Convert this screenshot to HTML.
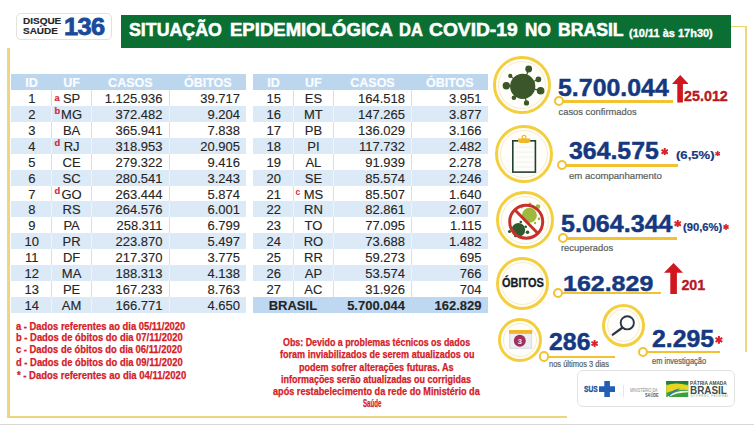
<!DOCTYPE html>
<html><head><meta charset="utf-8">
<style>
html,body{margin:0;padding:0}
body{width:754px;height:425px;position:relative;overflow:hidden;background:#fff;font-family:"Liberation Sans",sans-serif}
div,svg{position:absolute}
.hd{background:#bcd6ee}
.rb{background:#dce9f6}
.ht{color:#fafcff;-webkit-text-stroke:0.2px #fafcff;font-weight:bold;font-size:12.5px;line-height:16px;text-align:center;height:16px}
.tc{color:#252525;-webkit-text-stroke:0.12px #252525;font-size:13px;line-height:16px;text-align:center;height:16px}
.tr{color:#252525;-webkit-text-stroke:0.12px #252525;font-size:13px;line-height:16px;text-align:right;height:16px}
.b{font-weight:bold}
.dv{width:1px}
.sp{color:#d42a34;font-weight:bold;font-size:9.3px;line-height:10px;-webkit-text-stroke:0.2px #d42a34}
.ring{border:4px solid #f3cf3f;border-radius:50%;background:#fffefa}
.ring::after{content:"";position:absolute;left:2px;top:2px;right:2px;bottom:2px;border:1px solid #f6eccc;border-radius:50%}
.cl{height:2.5px;background:#f1c232}
.cc{width:6.4px;height:6.4px;border:2.3px solid #f1c232;border-radius:50%;background:#fff}
.num{color:#15387f;font-weight:bold;white-space:nowrap;transform-origin:0 0;-webkit-text-stroke:0.45px #15387f}
.lab{color:#5a5f5d;white-space:nowrap;-webkit-text-stroke:0.2px #5a5f5d;transform-origin:0 0}
.tw{top:19.3px;font-size:17.5px;line-height:22px;font-weight:bold;color:#fff;white-space:nowrap;transform-origin:0 0;-webkit-text-stroke:0.55px #fff}
.note{color:#d42028;font-weight:bold;font-size:10px;line-height:12px;white-space:nowrap;transform-origin:0 0;-webkit-text-stroke:0.25px #d42028}
</style></head><body>
<!-- logo box -->
<div style="left:16px;top:13px;width:94px;height:25px;border:1px solid #e2e2e2;border-radius:5px"></div>
<div style="left:23px;top:16px;font-size:9.6px;line-height:9.6px;font-weight:bold;color:#262626;transform-origin:0 0;transform:scaleX(1.04);-webkit-text-stroke:0.15px #262626">DISQUE<br>SAÚDE</div>
<div style="left:63.8px;top:13.6px;font-size:23.5px;line-height:26px;font-weight:bold;color:#1a4b9a;letter-spacing:-0.6px;transform-origin:0 0;transform:scaleX(1.08);-webkit-text-stroke:0.8px #1a4b9a">136</div>
<!-- title -->
<div style="left:121px;top:15px;width:610px;height:33px;background:#0b6e33"></div>
<div class="tw" style="left:128.95px;transform:scaleX(1.0159)">SITUAÇÃO</div>
<div class="tw" style="left:229.50px;transform:scaleX(1.0599)">EPIDEMIOLÓGICA</div>
<div class="tw" style="left:399.20px;transform:scaleX(0.9407)">DA</div>
<div class="tw" style="left:429.20px;transform:scaleX(1.0979)">COVID-19</div>
<div class="tw" style="left:525.10px;transform:scaleX(0.9810)">NO</div>
<div class="tw" style="left:558.20px;transform:scaleX(1.0077)">BRASIL</div>
<div style="left:629px;top:26.6px;font-size:11px;line-height:13px;font-weight:bold;color:#fff;white-space:nowrap;-webkit-text-stroke:0.35px #fff">(10/11 às 17h30)</div>
<!-- frame -->
<div style="left:7px;top:47.5px;width:2.6px;height:370px;background:#efd67e"></div>
<div style="left:7px;top:416px;width:560px;height:1.6px;background:#efd67e"></div>
<div style="left:731px;top:25.6px;width:15.5px;height:1.4px;background:#ead86a"></div>
<div style="left:745px;top:25.6px;width:1.7px;height:326px;background:#efd67e"></div>
<div style="left:0;top:423.6px;width:754px;height:1.4px;background:#d8d8d8"></div>
<div class="hd" style="left:11px;top:74px;width:235px;height:15.93px"></div>
<div class="ht" style="left:11.6px;top:74.6px;width:40px">ID</div>
<div class="ht" style="left:51.6px;top:74.6px;width:40px">UF</div>
<div class="ht" style="left:91.6px;top:74.6px;width:77.5px">CASOS</div>
<div class="ht" style="left:169.1px;top:74.6px;width:77.5px">ÓBITOS</div>
<div class="dv" style="left:51px;top:89.93px;height:15.93px;background:#dedede"></div>
<div class="dv" style="left:91px;top:89.93px;height:15.93px;background:#dedede"></div>
<div class="dv" style="left:168.5px;top:89.93px;height:15.93px;background:#dedede"></div>
<div class="tc" style="left:11.8px;top:90.93px;width:40px">1</div>
<div class="tc" style="left:51.6px;top:90.93px;width:40px">SP</div>
<div class="sp" style="left:54.6px;top:93.43px;">a</div>
<div class="tr" style="left:91px;top:90.93px;width:71.5px">1.125.936</div>
<div class="tr" style="left:168.5px;top:90.93px;width:71.5px">39.717</div>
<div class="rb" style="left:11px;top:105.86px;width:235px;height:15.93px"></div>
<div class="dv" style="left:51px;top:105.86px;height:15.93px;background:#eef4fb"></div>
<div class="dv" style="left:91px;top:105.86px;height:15.93px;background:#eef4fb"></div>
<div class="dv" style="left:168.5px;top:105.86px;height:15.93px;background:#eef4fb"></div>
<div class="tc" style="left:11.8px;top:106.86px;width:40px">2</div>
<div class="tc" style="left:51.6px;top:106.86px;width:40px">MG</div>
<div class="sp" style="left:54.6px;top:106.06px;">b</div>
<div class="tr" style="left:91px;top:106.86px;width:71.5px">372.482</div>
<div class="tr" style="left:168.5px;top:106.86px;width:71.5px">9.204</div>
<div class="dv" style="left:51px;top:121.78999999999999px;height:15.93px;background:#dedede"></div>
<div class="dv" style="left:91px;top:121.78999999999999px;height:15.93px;background:#dedede"></div>
<div class="dv" style="left:168.5px;top:121.78999999999999px;height:15.93px;background:#dedede"></div>
<div class="tc" style="left:11.8px;top:122.78999999999999px;width:40px">3</div>
<div class="tc" style="left:51.6px;top:122.78999999999999px;width:40px">BA</div>
<div class="tr" style="left:91px;top:122.78999999999999px;width:71.5px">365.941</div>
<div class="tr" style="left:168.5px;top:122.78999999999999px;width:71.5px">7.838</div>
<div class="rb" style="left:11px;top:137.72px;width:235px;height:15.93px"></div>
<div class="dv" style="left:51px;top:137.72px;height:15.93px;background:#eef4fb"></div>
<div class="dv" style="left:91px;top:137.72px;height:15.93px;background:#eef4fb"></div>
<div class="dv" style="left:168.5px;top:137.72px;height:15.93px;background:#eef4fb"></div>
<div class="tc" style="left:11.8px;top:138.72px;width:40px">4</div>
<div class="tc" style="left:51.6px;top:138.72px;width:40px">RJ</div>
<div class="sp" style="left:54.6px;top:137.92px;">d</div>
<div class="tr" style="left:91px;top:138.72px;width:71.5px">318.953</div>
<div class="tr" style="left:168.5px;top:138.72px;width:71.5px">20.905</div>
<div class="dv" style="left:51px;top:153.65px;height:15.93px;background:#dedede"></div>
<div class="dv" style="left:91px;top:153.65px;height:15.93px;background:#dedede"></div>
<div class="dv" style="left:168.5px;top:153.65px;height:15.93px;background:#dedede"></div>
<div class="tc" style="left:11.8px;top:154.65px;width:40px">5</div>
<div class="tc" style="left:51.6px;top:154.65px;width:40px">CE</div>
<div class="tr" style="left:91px;top:154.65px;width:71.5px">279.322</div>
<div class="tr" style="left:168.5px;top:154.65px;width:71.5px">9.416</div>
<div class="rb" style="left:11px;top:169.57999999999998px;width:235px;height:15.93px"></div>
<div class="dv" style="left:51px;top:169.57999999999998px;height:15.93px;background:#eef4fb"></div>
<div class="dv" style="left:91px;top:169.57999999999998px;height:15.93px;background:#eef4fb"></div>
<div class="dv" style="left:168.5px;top:169.57999999999998px;height:15.93px;background:#eef4fb"></div>
<div class="tc" style="left:11.8px;top:170.57999999999998px;width:40px">6</div>
<div class="tc" style="left:51.6px;top:170.57999999999998px;width:40px">SC</div>
<div class="tr" style="left:91px;top:170.57999999999998px;width:71.5px">280.541</div>
<div class="tr" style="left:168.5px;top:170.57999999999998px;width:71.5px">3.243</div>
<div class="dv" style="left:51px;top:185.51px;height:15.93px;background:#dedede"></div>
<div class="dv" style="left:91px;top:185.51px;height:15.93px;background:#dedede"></div>
<div class="dv" style="left:168.5px;top:185.51px;height:15.93px;background:#dedede"></div>
<div class="tc" style="left:11.8px;top:186.51px;width:40px">7</div>
<div class="tc" style="left:51.6px;top:186.51px;width:40px">GO</div>
<div class="sp" style="left:54.6px;top:185.70999999999998px;">d</div>
<div class="tr" style="left:91px;top:186.51px;width:71.5px">263.444</div>
<div class="tr" style="left:168.5px;top:186.51px;width:71.5px">5.874</div>
<div class="rb" style="left:11px;top:201.44px;width:235px;height:15.93px"></div>
<div class="dv" style="left:51px;top:201.44px;height:15.93px;background:#eef4fb"></div>
<div class="dv" style="left:91px;top:201.44px;height:15.93px;background:#eef4fb"></div>
<div class="dv" style="left:168.5px;top:201.44px;height:15.93px;background:#eef4fb"></div>
<div class="tc" style="left:11.8px;top:202.44px;width:40px">8</div>
<div class="tc" style="left:51.6px;top:202.44px;width:40px">RS</div>
<div class="tr" style="left:91px;top:202.44px;width:71.5px">264.576</div>
<div class="tr" style="left:168.5px;top:202.44px;width:71.5px">6.001</div>
<div class="dv" style="left:51px;top:217.37px;height:15.93px;background:#dedede"></div>
<div class="dv" style="left:91px;top:217.37px;height:15.93px;background:#dedede"></div>
<div class="dv" style="left:168.5px;top:217.37px;height:15.93px;background:#dedede"></div>
<div class="tc" style="left:11.8px;top:218.37px;width:40px">9</div>
<div class="tc" style="left:51.6px;top:218.37px;width:40px">PA</div>
<div class="tr" style="left:91px;top:218.37px;width:71.5px">258.311</div>
<div class="tr" style="left:168.5px;top:218.37px;width:71.5px">6.799</div>
<div class="rb" style="left:11px;top:233.3px;width:235px;height:15.93px"></div>
<div class="dv" style="left:51px;top:233.3px;height:15.93px;background:#eef4fb"></div>
<div class="dv" style="left:91px;top:233.3px;height:15.93px;background:#eef4fb"></div>
<div class="dv" style="left:168.5px;top:233.3px;height:15.93px;background:#eef4fb"></div>
<div class="tc" style="left:11.8px;top:234.3px;width:40px">10</div>
<div class="tc" style="left:51.6px;top:234.3px;width:40px">PR</div>
<div class="tr" style="left:91px;top:234.3px;width:71.5px">223.870</div>
<div class="tr" style="left:168.5px;top:234.3px;width:71.5px">5.497</div>
<div class="dv" style="left:51px;top:249.23px;height:15.93px;background:#dedede"></div>
<div class="dv" style="left:91px;top:249.23px;height:15.93px;background:#dedede"></div>
<div class="dv" style="left:168.5px;top:249.23px;height:15.93px;background:#dedede"></div>
<div class="tc" style="left:11.8px;top:250.23px;width:40px">11</div>
<div class="tc" style="left:51.6px;top:250.23px;width:40px">DF</div>
<div class="tr" style="left:91px;top:250.23px;width:71.5px">217.370</div>
<div class="tr" style="left:168.5px;top:250.23px;width:71.5px">3.775</div>
<div class="rb" style="left:11px;top:265.15999999999997px;width:235px;height:15.93px"></div>
<div class="dv" style="left:51px;top:265.15999999999997px;height:15.93px;background:#eef4fb"></div>
<div class="dv" style="left:91px;top:265.15999999999997px;height:15.93px;background:#eef4fb"></div>
<div class="dv" style="left:168.5px;top:265.15999999999997px;height:15.93px;background:#eef4fb"></div>
<div class="tc" style="left:11.8px;top:266.15999999999997px;width:40px">12</div>
<div class="tc" style="left:51.6px;top:266.15999999999997px;width:40px">MA</div>
<div class="tr" style="left:91px;top:266.15999999999997px;width:71.5px">188.313</div>
<div class="tr" style="left:168.5px;top:266.15999999999997px;width:71.5px">4.138</div>
<div class="dv" style="left:51px;top:281.09000000000003px;height:15.93px;background:#dedede"></div>
<div class="dv" style="left:91px;top:281.09000000000003px;height:15.93px;background:#dedede"></div>
<div class="dv" style="left:168.5px;top:281.09000000000003px;height:15.93px;background:#dedede"></div>
<div class="tc" style="left:11.8px;top:282.09000000000003px;width:40px">13</div>
<div class="tc" style="left:51.6px;top:282.09000000000003px;width:40px">PE</div>
<div class="tr" style="left:91px;top:282.09000000000003px;width:71.5px">167.233</div>
<div class="tr" style="left:168.5px;top:282.09000000000003px;width:71.5px">8.763</div>
<div class="rb" style="left:11px;top:297.02px;width:235px;height:15.93px"></div>
<div class="dv" style="left:51px;top:297.02px;height:15.93px;background:#eef4fb"></div>
<div class="dv" style="left:91px;top:297.02px;height:15.93px;background:#eef4fb"></div>
<div class="dv" style="left:168.5px;top:297.02px;height:15.93px;background:#eef4fb"></div>
<div class="tc" style="left:11.8px;top:298.02px;width:40px">14</div>
<div class="tc" style="left:51.6px;top:298.02px;width:40px">AM</div>
<div class="tr" style="left:91px;top:298.02px;width:71.5px">166.771</div>
<div class="tr" style="left:168.5px;top:298.02px;width:71.5px">4.650</div>
<div class="hd" style="left:253px;top:74px;width:234.5px;height:15.93px"></div>
<div class="ht" style="left:253.6px;top:74.6px;width:39.80000000000001px">ID</div>
<div class="ht" style="left:293.40000000000003px;top:74.6px;width:40.0px">UF</div>
<div class="ht" style="left:333.40000000000003px;top:74.6px;width:78.19999999999999px">CASOS</div>
<div class="ht" style="left:411.6px;top:74.6px;width:76.5px">ÓBITOS</div>
<div class="dv" style="left:292.8px;top:89.93px;height:15.93px;background:#dedede"></div>
<div class="dv" style="left:332.8px;top:89.93px;height:15.93px;background:#dedede"></div>
<div class="dv" style="left:411px;top:89.93px;height:15.93px;background:#dedede"></div>
<div class="tc" style="left:253.8px;top:90.93px;width:39.80000000000001px">15</div>
<div class="tc" style="left:293.40000000000003px;top:90.93px;width:40.0px">ES</div>
<div class="tr" style="left:332.8px;top:90.93px;width:72.19999999999999px">164.518</div>
<div class="tr" style="left:411px;top:90.93px;width:70.5px">3.951</div>
<div class="rb" style="left:253px;top:105.86px;width:234.5px;height:15.93px"></div>
<div class="dv" style="left:292.8px;top:105.86px;height:15.93px;background:#eef4fb"></div>
<div class="dv" style="left:332.8px;top:105.86px;height:15.93px;background:#eef4fb"></div>
<div class="dv" style="left:411px;top:105.86px;height:15.93px;background:#eef4fb"></div>
<div class="tc" style="left:253.8px;top:106.86px;width:39.80000000000001px">16</div>
<div class="tc" style="left:293.40000000000003px;top:106.86px;width:40.0px">MT</div>
<div class="tr" style="left:332.8px;top:106.86px;width:72.19999999999999px">147.265</div>
<div class="tr" style="left:411px;top:106.86px;width:70.5px">3.877</div>
<div class="dv" style="left:292.8px;top:121.78999999999999px;height:15.93px;background:#dedede"></div>
<div class="dv" style="left:332.8px;top:121.78999999999999px;height:15.93px;background:#dedede"></div>
<div class="dv" style="left:411px;top:121.78999999999999px;height:15.93px;background:#dedede"></div>
<div class="tc" style="left:253.8px;top:122.78999999999999px;width:39.80000000000001px">17</div>
<div class="tc" style="left:293.40000000000003px;top:122.78999999999999px;width:40.0px">PB</div>
<div class="tr" style="left:332.8px;top:122.78999999999999px;width:72.19999999999999px">136.029</div>
<div class="tr" style="left:411px;top:122.78999999999999px;width:70.5px">3.166</div>
<div class="rb" style="left:253px;top:137.72px;width:234.5px;height:15.93px"></div>
<div class="dv" style="left:292.8px;top:137.72px;height:15.93px;background:#eef4fb"></div>
<div class="dv" style="left:332.8px;top:137.72px;height:15.93px;background:#eef4fb"></div>
<div class="dv" style="left:411px;top:137.72px;height:15.93px;background:#eef4fb"></div>
<div class="tc" style="left:253.8px;top:138.72px;width:39.80000000000001px">18</div>
<div class="tc" style="left:293.40000000000003px;top:138.72px;width:40.0px">PI</div>
<div class="tr" style="left:332.8px;top:138.72px;width:72.19999999999999px">117.732</div>
<div class="tr" style="left:411px;top:138.72px;width:70.5px">2.482</div>
<div class="dv" style="left:292.8px;top:153.65px;height:15.93px;background:#dedede"></div>
<div class="dv" style="left:332.8px;top:153.65px;height:15.93px;background:#dedede"></div>
<div class="dv" style="left:411px;top:153.65px;height:15.93px;background:#dedede"></div>
<div class="tc" style="left:253.8px;top:154.65px;width:39.80000000000001px">19</div>
<div class="tc" style="left:293.40000000000003px;top:154.65px;width:40.0px">AL</div>
<div class="tr" style="left:332.8px;top:154.65px;width:72.19999999999999px">91.939</div>
<div class="tr" style="left:411px;top:154.65px;width:70.5px">2.278</div>
<div class="rb" style="left:253px;top:169.57999999999998px;width:234.5px;height:15.93px"></div>
<div class="dv" style="left:292.8px;top:169.57999999999998px;height:15.93px;background:#eef4fb"></div>
<div class="dv" style="left:332.8px;top:169.57999999999998px;height:15.93px;background:#eef4fb"></div>
<div class="dv" style="left:411px;top:169.57999999999998px;height:15.93px;background:#eef4fb"></div>
<div class="tc" style="left:253.8px;top:170.57999999999998px;width:39.80000000000001px">20</div>
<div class="tc" style="left:293.40000000000003px;top:170.57999999999998px;width:40.0px">SE</div>
<div class="tr" style="left:332.8px;top:170.57999999999998px;width:72.19999999999999px">85.574</div>
<div class="tr" style="left:411px;top:170.57999999999998px;width:70.5px">2.246</div>
<div class="dv" style="left:292.8px;top:185.51px;height:15.93px;background:#dedede"></div>
<div class="dv" style="left:332.8px;top:185.51px;height:15.93px;background:#dedede"></div>
<div class="dv" style="left:411px;top:185.51px;height:15.93px;background:#dedede"></div>
<div class="tc" style="left:253.8px;top:186.51px;width:39.80000000000001px">21</div>
<div class="tc" style="left:293.40000000000003px;top:186.51px;width:40.0px">MS</div>
<div class="sp" style="left:295.40000000000003px;top:186.70999999999998px;font-size:8.5px;-webkit-text-stroke:0">c</div>
<div class="tr" style="left:332.8px;top:186.51px;width:72.19999999999999px">85.507</div>
<div class="tr" style="left:411px;top:186.51px;width:70.5px">1.640</div>
<div class="rb" style="left:253px;top:201.44px;width:234.5px;height:15.93px"></div>
<div class="dv" style="left:292.8px;top:201.44px;height:15.93px;background:#eef4fb"></div>
<div class="dv" style="left:332.8px;top:201.44px;height:15.93px;background:#eef4fb"></div>
<div class="dv" style="left:411px;top:201.44px;height:15.93px;background:#eef4fb"></div>
<div class="tc" style="left:253.8px;top:202.44px;width:39.80000000000001px">22</div>
<div class="tc" style="left:293.40000000000003px;top:202.44px;width:40.0px">RN</div>
<div class="tr" style="left:332.8px;top:202.44px;width:72.19999999999999px">82.861</div>
<div class="tr" style="left:411px;top:202.44px;width:70.5px">2.607</div>
<div class="dv" style="left:292.8px;top:217.37px;height:15.93px;background:#dedede"></div>
<div class="dv" style="left:332.8px;top:217.37px;height:15.93px;background:#dedede"></div>
<div class="dv" style="left:411px;top:217.37px;height:15.93px;background:#dedede"></div>
<div class="tc" style="left:253.8px;top:218.37px;width:39.80000000000001px">23</div>
<div class="tc" style="left:293.40000000000003px;top:218.37px;width:40.0px">TO</div>
<div class="tr" style="left:332.8px;top:218.37px;width:72.19999999999999px">77.095</div>
<div class="tr" style="left:411px;top:218.37px;width:70.5px">1.115</div>
<div class="rb" style="left:253px;top:233.3px;width:234.5px;height:15.93px"></div>
<div class="dv" style="left:292.8px;top:233.3px;height:15.93px;background:#eef4fb"></div>
<div class="dv" style="left:332.8px;top:233.3px;height:15.93px;background:#eef4fb"></div>
<div class="dv" style="left:411px;top:233.3px;height:15.93px;background:#eef4fb"></div>
<div class="tc" style="left:253.8px;top:234.3px;width:39.80000000000001px">24</div>
<div class="tc" style="left:293.40000000000003px;top:234.3px;width:40.0px">RO</div>
<div class="tr" style="left:332.8px;top:234.3px;width:72.19999999999999px">73.688</div>
<div class="tr" style="left:411px;top:234.3px;width:70.5px">1.482</div>
<div class="dv" style="left:292.8px;top:249.23px;height:15.93px;background:#dedede"></div>
<div class="dv" style="left:332.8px;top:249.23px;height:15.93px;background:#dedede"></div>
<div class="dv" style="left:411px;top:249.23px;height:15.93px;background:#dedede"></div>
<div class="tc" style="left:253.8px;top:250.23px;width:39.80000000000001px">25</div>
<div class="tc" style="left:293.40000000000003px;top:250.23px;width:40.0px">RR</div>
<div class="tr" style="left:332.8px;top:250.23px;width:72.19999999999999px">59.273</div>
<div class="tr" style="left:411px;top:250.23px;width:70.5px">695</div>
<div class="rb" style="left:253px;top:265.15999999999997px;width:234.5px;height:15.93px"></div>
<div class="dv" style="left:292.8px;top:265.15999999999997px;height:15.93px;background:#eef4fb"></div>
<div class="dv" style="left:332.8px;top:265.15999999999997px;height:15.93px;background:#eef4fb"></div>
<div class="dv" style="left:411px;top:265.15999999999997px;height:15.93px;background:#eef4fb"></div>
<div class="tc" style="left:253.8px;top:266.15999999999997px;width:39.80000000000001px">26</div>
<div class="tc" style="left:293.40000000000003px;top:266.15999999999997px;width:40.0px">AP</div>
<div class="tr" style="left:332.8px;top:266.15999999999997px;width:72.19999999999999px">53.574</div>
<div class="tr" style="left:411px;top:266.15999999999997px;width:70.5px">766</div>
<div class="dv" style="left:292.8px;top:281.09000000000003px;height:15.93px;background:#dedede"></div>
<div class="dv" style="left:332.8px;top:281.09000000000003px;height:15.93px;background:#dedede"></div>
<div class="dv" style="left:411px;top:281.09000000000003px;height:15.93px;background:#dedede"></div>
<div class="tc" style="left:253.8px;top:282.09000000000003px;width:39.80000000000001px">27</div>
<div class="tc" style="left:293.40000000000003px;top:282.09000000000003px;width:40.0px">AC</div>
<div class="tr" style="left:332.8px;top:282.09000000000003px;width:72.19999999999999px">31.926</div>
<div class="tr" style="left:411px;top:282.09000000000003px;width:70.5px">704</div>
<div class="rb" style="left:253px;top:297.02px;width:234.5px;height:15.93px;background:#bed8f1"></div>
<div class="tc b" style="left:253px;top:298.02px;width:79.80000000000001px">BRASIL</div>
<div class="tr b" style="left:332.8px;top:298.02px;width:72.19999999999999px">5.700.044</div>
<div class="tr b" style="left:411px;top:298.02px;width:70.5px">162.829</div>
<!-- notes -->
<div class="note" style="left:16px;top:320.9px;transform:scaleX(0.94)">a - Dados referentes ao dia 05/11/2020</div>
<div class="note" style="left:16px;top:331.7px;transform:scaleX(0.94)">b - Dados de óbitos do dia 07/11/2020</div>
<div class="note" style="left:16px;top:343.9px;transform:scaleX(0.94)">c - Dados de óbitos do dia 06/11/2020</div>
<div class="note" style="left:16px;top:357.0px;transform:scaleX(0.94)">d - Dados de óbitos do dia 09/11/2020</div>
<div class="note" style="left:16.8px;top:369.8px;transform:scaleX(0.948)">* - Dados referentes ao dia 04/11/2020</div>
<div class="note" style="left:283.30px;top:337.0px;transform:scaleX(0.8883)">Obs: Devido a problemas técnicos os dados</div>
<div class="note" style="left:279.60px;top:349.3px;transform:scaleX(0.9041)">foram inviabilizados de serem atualizados ou</div>
<div class="note" style="left:299.20px;top:361.7px;transform:scaleX(0.9050)">podem sofrer alterações futuras. As</div>
<div class="note" style="left:281.40px;top:374.4px;transform:scaleX(0.8969)">informações serão atualizadas ou corrigidas</div>
<div class="note" style="left:273.40px;top:386.4px;transform:scaleX(0.9141)">após restabelecimento da rede do Ministério da</div>
<div class="note" style="left:362.90px;top:398.3px;transform:scaleX(0.6116)">Saúde</div>
<!-- right panel -->
<div class="ring" style="left:493.0px;top:55.5px;width:52.4px;height:52.4px;border-width:3.8px"></div>
<svg style="left:493px;top:55px" width="60" height="61" viewBox="0 0 60 61">
<g fill="#3b5628" stroke="#3b5628" stroke-width="1.2">
<line x1="29.7" y1="31.4" x2="35.7" y2="14"/><circle cx="35.7" cy="14" r="2.8"/>
<line x1="29.7" y1="31.4" x2="45.4" y2="24.3"/><circle cx="45.4" cy="24.3" r="2.3"/>
<line x1="29.7" y1="31.4" x2="47.6" y2="35.7"/><circle cx="47.6" cy="35.7" r="3.2"/>
<line x1="29.7" y1="31.4" x2="33.5" y2="47.9"/><circle cx="33.5" cy="47.9" r="2"/>
<line x1="29.7" y1="31.4" x2="20.9" y2="42.7"/><circle cx="20.9" cy="42.7" r="1.7"/>
<line x1="29.7" y1="31.4" x2="13.3" y2="30.8"/><circle cx="13.3" cy="30.8" r="3.1"/>
<line x1="29.7" y1="31.4" x2="17.3" y2="20.9"/><circle cx="17.3" cy="20.9" r="1.5"/>
</g>
<circle cx="29.7" cy="31.4" r="12.6" fill="#3b5628"/>
</svg>
<div class="cl" style="left:559.1px;top:100.15px;width:114.39999999999998px"></div><div class="cc" style="left:553.6px;top:95.9px"></div>
<div class="num" style="left:557.80px;top:76.84px;font-size:23.5px;line-height:23.5px;transform:scaleX(1.06)">5.700.044</div>
<svg style="left:671.8px;top:75px" width="16.6" height="27.5" viewBox="0 0 16.6 27.5"><polygon points="8.2,0 16.6,9 10.9,9 10.9,27.5 5.3,27.5 5.3,9 0,9" fill="#d0161e"/></svg>
<div style="left:684.3px;top:88.8px;font-size:14.2px;line-height:14px;font-weight:bold;color:#b8181f;transform-origin:0 0;transform:scaleX(1.01);-webkit-text-stroke:0.35px #b8181f">25.012</div>
<div class="lab" style="left:558.5px;top:106px;font-size:9.4px;line-height:11px">casos confirmados</div>

<div class="ring" style="left:495.0px;top:124.5px;width:52.4px;height:52.4px;border-width:3.8px"></div>
<svg style="left:505px;top:130px" width="40" height="46" viewBox="0 0 40 46">
<rect x="7.8" y="10.8" width="22.6" height="31.3" fill="#fdfdfb" stroke="#22402f" stroke-width="1.6"/>
<g stroke="#efefe8" stroke-width="0.9"><line x1="10" y1="17" x2="28.5" y2="17"/><line x1="10" y1="22" x2="28.5" y2="22"/><line x1="10" y1="27" x2="28.5" y2="27"/><line x1="10" y1="32" x2="28.5" y2="32"/><line x1="10" y1="37" x2="28.5" y2="37"/></g>
<path d="M13 8.4 h12.3 v2.2 q0 2.4 -2.4 2.4 h-7.5 q-2.4 0 -2.4 -2.4z" fill="#f0b828"/>
<circle cx="19.1" cy="7.3" r="1.9" fill="none" stroke="#f0b828" stroke-width="1.2"/>
</svg>
<div class="cl" style="left:562px;top:164.25px;width:115.5px"></div><div class="cc" style="left:556.5px;top:160.0px"></div>
<div class="num" style="left:568.91px;top:140.22px;font-size:23px;line-height:23px;transform:scaleX(1.08)">364.575</div>
<svg style="left:660.75px;top:147.95px" width="7.5" height="7.5" viewBox="0 0 7.5 7.5"><g stroke="#d8232a" stroke-width="1.95"><line x1="3.75" y1="0.00" x2="3.75" y2="7.50"/><line x1="0.50" y1="1.88" x2="7.00" y2="5.62"/><line x1="7.00" y1="1.88" x2="0.50" y2="5.62"/></g></svg>
<div class="num" style="left:675.5px;top:149px;font-size:11.2px;line-height:13px;transform:scaleX(1.17);-webkit-text-stroke:0.2px #15387f">(6,5%)</div>
<svg style="left:714.95px;top:150.75px" width="5.5" height="5.5" viewBox="0 0 5.5 5.5"><g stroke="#d8232a" stroke-width="1.43"><line x1="2.75" y1="0.00" x2="2.75" y2="5.50"/><line x1="0.37" y1="1.38" x2="5.13" y2="4.12"/><line x1="5.13" y1="1.38" x2="0.37" y2="4.12"/></g></svg>
<div class="lab" style="left:569px;top:170px;font-size:9.6px;line-height:11px">em acompanhamento</div>

<div class="ring" style="left:496.0px;top:191.0px;width:52.4px;height:52.4px;border-width:3.8px"></div>
<svg style="left:500px;top:195px" width="52" height="52" viewBox="0 0 52 52">
<g fill="#9dba3c"><circle cx="29.4" cy="20.2" r="7.5"/>
<circle cx="30" cy="9" r="1.6"/><circle cx="38" cy="11.6" r="2.3"/><circle cx="21.8" cy="12" r="1.5"/><circle cx="39" cy="23.9" r="1.4"/><circle cx="35" cy="28" r="1.2"/></g>
<g fill="#2e5a2e"><circle cx="18.4" cy="34.9" r="6.8"/>
<circle cx="9.5" cy="36.5" r="1.6"/><circle cx="27.5" cy="37.3" r="1.8"/><circle cx="20.8" cy="27" r="1.3"/><circle cx="25.7" cy="31.8" r="1.3"/><circle cx="15.3" cy="41" r="1.2"/></g>
<circle cx="26.2" cy="26.7" r="16.5" fill="none" stroke="#c8302c" stroke-width="3"/>
<line x1="14.5" y1="14.5" x2="38" y2="38.5" stroke="#c8302c" stroke-width="3"/>
</svg>
<div class="cl" style="left:563.4px;top:237.15px;width:113.80000000000007px"></div><div class="cc" style="left:557.9px;top:232.9px"></div>
<div class="num" style="left:560.70px;top:212.62px;font-size:23px;line-height:23px;transform:scaleX(1.09)">5.064.344</div>
<svg style="left:673.75px;top:219.65px" width="7.5" height="7.5" viewBox="0 0 7.5 7.5"><g stroke="#d8232a" stroke-width="1.95"><line x1="3.75" y1="0.00" x2="3.75" y2="7.50"/><line x1="0.50" y1="1.88" x2="7.00" y2="5.62"/><line x1="7.00" y1="1.88" x2="0.50" y2="5.62"/></g></svg>
<div class="num" style="left:682.5px;top:222.2px;font-size:10px;line-height:12px;transform:scaleX(1.12);-webkit-text-stroke:0.2px #15387f">(90,6%)</div>
<svg style="left:723.3px;top:223.5px" width="6" height="6" viewBox="0 0 6 6"><g stroke="#d8232a" stroke-width="1.56"><line x1="3.00" y1="0.00" x2="3.00" y2="6.00"/><line x1="0.40" y1="1.50" x2="5.60" y2="4.50"/><line x1="5.60" y1="1.50" x2="0.40" y2="4.50"/></g></svg>
<div class="lab" style="left:561px;top:242px;font-size:9.4px;line-height:11px">recuperados</div>

<div class="ring" style="left:495.5px;top:257.0px;width:47.4px;height:47.4px;border-width:3.8px"></div>
<div style="left:501.6px;top:277.1px;font-size:12.1px;line-height:13px;font-weight:bold;color:#191c22;transform-origin:0 0;transform:scaleX(0.905);-webkit-text-stroke:0.3px #191c22">ÓBITOS</div>
<div class="cl" style="left:558.2px;top:291.75px;width:102.79999999999995px"></div><div class="cc" style="left:552.7px;top:287.5px"></div>
<div class="num" style="left:562.80px;top:272.70px;font-size:22.5px;line-height:22.5px;transform:scaleX(1.11)">162.829</div>
<svg style="left:664.2px;top:263.2px" width="19" height="31" viewBox="0 0 19 31"><polygon points="9.6,0 19,9.7 12.9,9.7 12.9,31 6.3,31 6.3,9.7 0,9.7" fill="#d0161e"/></svg>
<div style="left:681.4px;top:278.2px;font-size:14.3px;line-height:14px;font-weight:bold;color:#b8181f;-webkit-text-stroke:0.35px #b8181f">201</div>

<div class="ring" style="left:498.0px;top:318.0px;width:38.0px;height:38.0px;border-width:3.5px"></div>
<svg style="left:509.4px;top:330.4px" width="23.2" height="19" viewBox="0 0 23.2 19">
<rect x="0" y="0" width="23.2" height="19" fill="#dfe1e8"/>
<rect x="1.5" y="3.7" width="20.2" height="13.8" fill="#eceef2"/>
<rect x="0" y="0" width="23.2" height="3.8" fill="#f2b42a"/>
<circle cx="10.8" cy="10.8" r="6" fill="#a02f5a"/>
<text x="10.8" y="13.6" font-family="Liberation Sans" font-weight="bold" font-size="7.5" fill="#f4e8ee" text-anchor="middle">3</text>
</svg>
<div class="cl" style="left:544.6px;top:355.55px;width:70.39999999999998px"></div><div class="cc" style="left:539.1px;top:351.3px"></div>
<div class="num" style="left:549.01px;top:330.72px;font-size:23px;line-height:23px;transform:scaleX(1.08)">286</div>
<svg style="left:591.3px;top:339.9px" width="7.2" height="7.2" viewBox="0 0 7.2 7.2"><g stroke="#d8232a" stroke-width="1.87"><line x1="3.60" y1="0.00" x2="3.60" y2="7.20"/><line x1="0.48" y1="1.80" x2="6.72" y2="5.40"/><line x1="6.72" y1="1.80" x2="0.48" y2="5.40"/></g></svg>
<div class="lab" style="left:548.5px;top:359.2px;font-size:8.2px;line-height:11px;transform:scaleX(0.915)">nos últimos 3 dias</div>

<div class="ring" style="left:601.8px;top:304.4px;width:37.0px;height:37.0px;border-width:3.5px"></div>
<svg style="left:603px;top:306px" width="42" height="42" viewBox="0 0 42 42">
<circle cx="24.3" cy="16.8" r="6.6" fill="#fdfdfd" stroke="#2a3545" stroke-width="1.9"/>
<line x1="19.3" y1="21.8" x2="9.8" y2="28.6" stroke="#2a3545" stroke-width="2.3" stroke-linecap="round"/>
</svg>
<div class="cl" style="left:643.3px;top:350.75px;width:77.10000000000002px"></div><div class="cc" style="left:637.8px;top:346.5px"></div>
<div class="num" style="left:652.41px;top:328.32px;font-size:23px;line-height:23px;transform:scaleX(1.08)">2.295</div>
<svg style="left:715.4px;top:336.3px" width="7.8" height="7.8" viewBox="0 0 7.8 7.8"><g stroke="#d8232a" stroke-width="2.03"><line x1="3.90" y1="0.00" x2="3.90" y2="7.80"/><line x1="0.52" y1="1.95" x2="7.28" y2="5.85"/><line x1="7.28" y1="1.95" x2="0.52" y2="5.85"/></g></svg>
<div class="lab" style="left:651.7px;top:355.7px;font-size:8.2px;line-height:11px;transform:scaleX(0.915)">em investigação</div>

<!-- logos -->
<div style="left:577px;top:370px;width:156px;height:35px;border:1px solid #e2e2e2;border-radius:6px"></div>
<div style="left:584.3px;top:385.2px;font-size:8.3px;line-height:9px;font-weight:bold;color:#22508f;transform-origin:0 0;transform:scaleX(0.8);-webkit-text-stroke:0.3px #22508f">SUS</div>
<svg style="left:599.3px;top:381.2px" width="16" height="16" viewBox="0 0 16 16"><path d="M5.3 0h5.6v5.3h5.1v5.6h-5.1v5.1h-5.6v-5.1h-5.3v-5.6h5.3z" fill="#2160b4"/></svg>
<div style="left:623px;top:385px;width:1px;height:12px;background:#ebe6d8"></div>
<div style="left:629.8px;top:388px;font-size:4.6px;line-height:5px;color:#888;white-space:nowrap;transform-origin:0 0;transform:scaleX(0.8)">MINISTÉRIO DA</div>
<div style="left:644.8px;top:392.6px;font-size:4.6px;line-height:5px;color:#555;font-weight:bold;transform-origin:0 0;transform:scaleX(0.85)">SAÚDE</div>
<svg style="left:666px;top:381px" width="22.5" height="16" viewBox="0 0 22 16"><rect width="22" height="16" fill="#3aa040"/><rect width="22" height="3.2" fill="#1f7f3c"/><path d="M0 4.5 Q 9 0.5 22 4.5 L22 9 Q 10 8 0 12 Z" fill="#e6d622"/><path d="M1 15.5 Q 8 9.5 22 9.8 L22 11.2 Q 10 11.5 2.5 16 Z" fill="#f4f6dc"/><path d="M2 14.5 Q 7 7.5 14.5 7.6 Q 8 10 3 15.5 Z" fill="#3a72c0"/></svg>
<div style="left:690.2px;top:381px;font-size:4.5px;line-height:5px;font-weight:bold;color:#3c4a42;white-space:nowrap;transform-origin:0 0;transform:scaleX(1.07)">PÁTRIA AMADA</div>
<div style="left:689.6px;top:384.5px;font-size:10.3px;line-height:11px;font-weight:bold;color:#3b5046;white-space:nowrap;transform-origin:0 0;transform:scaleX(0.96)">BRASIL</div>
<div style="left:690.2px;top:395px;font-size:2.8px;line-height:3px;color:#8a9a8a;white-space:nowrap;letter-spacing:0.75px">GOVERNO FEDERAL</div>
</body></html>
